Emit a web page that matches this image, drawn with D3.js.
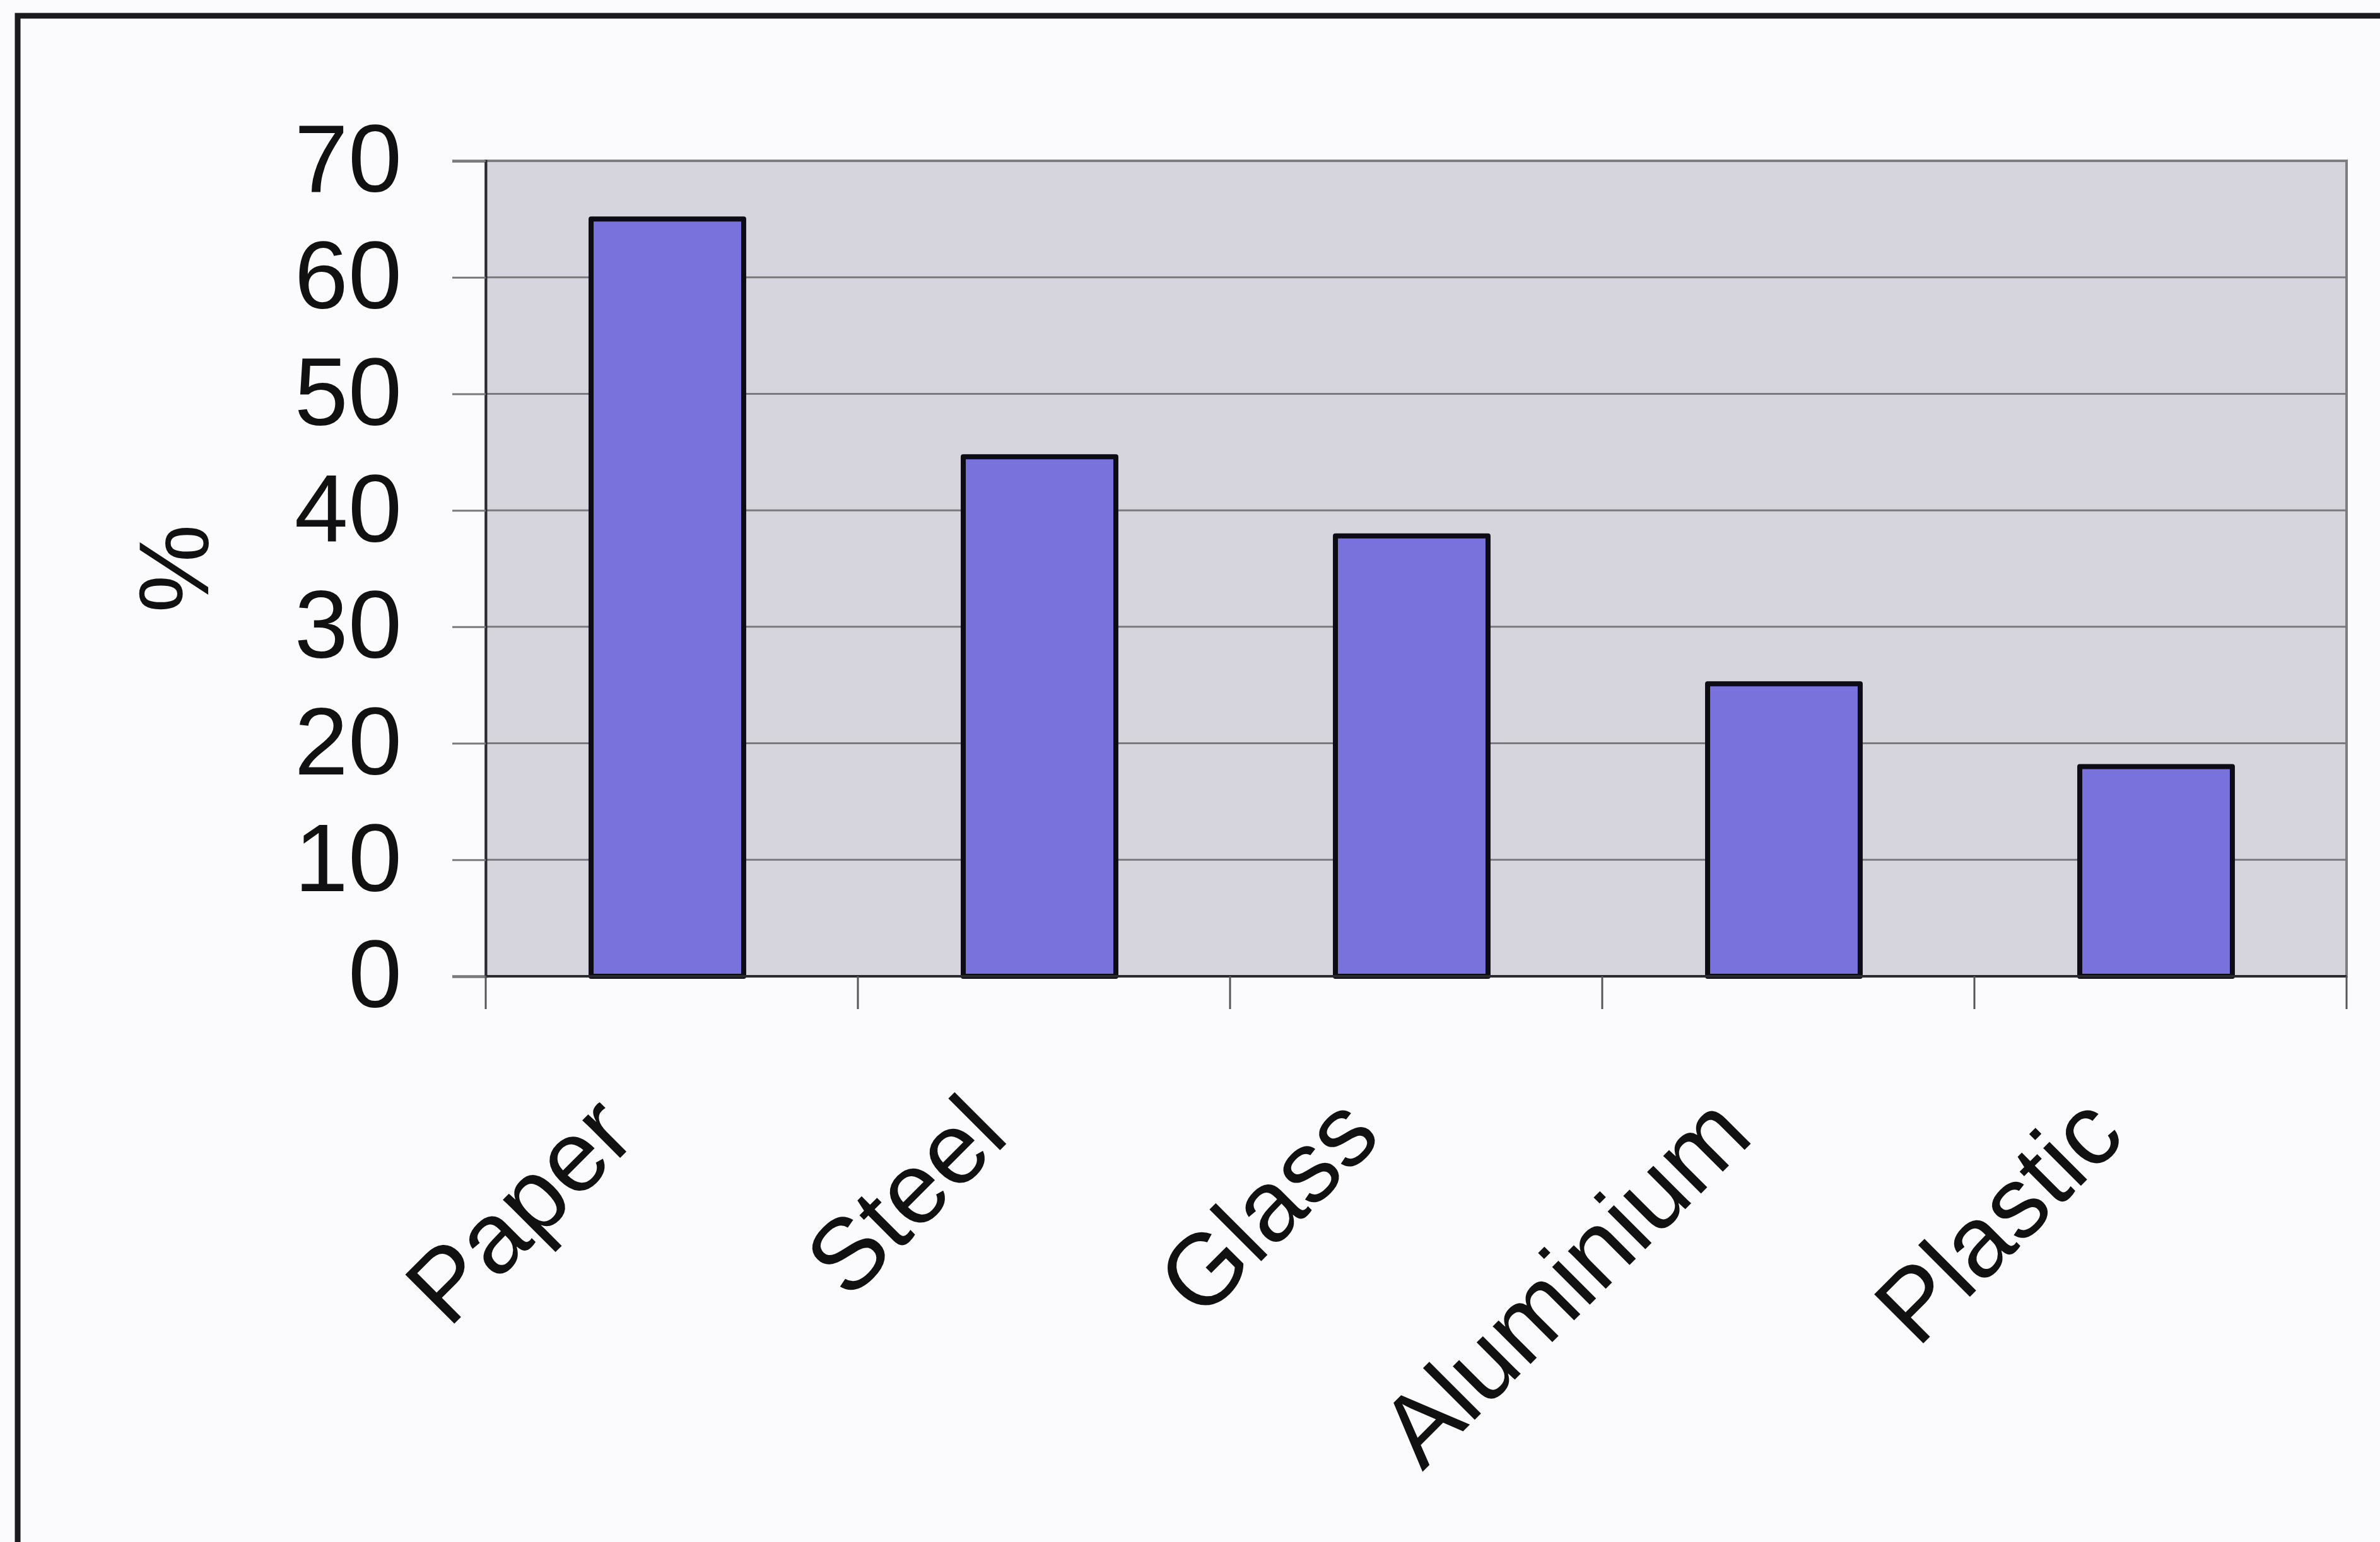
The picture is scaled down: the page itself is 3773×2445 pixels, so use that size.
<!DOCTYPE html>
<html>
<head>
<meta charset="utf-8">
<script src="https://cdn.jsdelivr.net/npm/d3@7"></script>
<style>
  html, body { margin: 0; padding: 0; background: #fbfbfd; }
  svg { display: block; }
  text { font-family: "Liberation Sans", Arial, Helvetica, sans-serif; fill: #111; }
</style>
</head>
<body>
<script>
// Recycling rates by material (%)
const categories = ["Paper", "Steel", "Glass", "Aluminium", "Plastic"];
const values = [65, 44.6, 37.8, 25.1, 18];
const yTicks = [0, 10, 20, 30, 40, 50, 60, 70];
const yLabel = "%";

const W = 3773, H = 2445;
const plot = { left: 770, right: 3720, top: 255, bottom: 1548 };

const svg = d3.select("body").append("svg")
  .attr("width", W).attr("height", H);

svg.append("rect").attr("width", W).attr("height", H).attr("fill", "#fbfbfd");

// outer frame (runs off the right and bottom edges)
svg.append("path")
  .attr("d", `M${W + 10},25 L28,25 L28,${H + 10}`)
  .attr("fill", "none").attr("stroke", "#1b1a1f").attr("stroke-width", 9);

const x = d3.scaleBand()
  .domain(categories)
  .range([plot.left, plot.right])
  .paddingInner(0.59)
  .paddingOuter(0.295);

const y = d3.scaleLinear()
  .domain([0, 70])
  .range([plot.bottom, plot.top]);

// plot area
svg.append("rect")
  .attr("x", plot.left).attr("y", plot.top)
  .attr("width", plot.right - plot.left).attr("height", plot.bottom - plot.top)
  .attr("fill", "#d6d5dd")
  .attr("stroke", "#7d7d80").attr("stroke-width", 4);

// horizontal gridlines
svg.append("g").selectAll("line")
  .data(yTicks.filter(t => t > 0 && t < 70))
  .join("line")
  .attr("x1", plot.left).attr("x2", plot.right)
  .attr("y1", d => y(d)).attr("y2", d => y(d))
  .attr("stroke", "#7a7a7e").attr("stroke-width", 3);

// y axis
const yAxis = svg.append("g")
  .attr("transform", `translate(${plot.left},0)`)
  .call(d3.axisLeft(y).tickValues(yTicks).tickSize(53).tickPadding(80));
yAxis.select(".domain").attr("stroke", "#2a2a2e").attr("stroke-width", 4);
yAxis.selectAll(".tick line").attr("stroke", "#7a7a7e").attr("stroke-width", 3);
yAxis.selectAll(".tick text")
  .attr("font-size", 153)
  .attr("font-family", "'Liberation Sans', Arial, sans-serif")
  .attr("fill", "#111");

// bars (drawn a few pixels left of the band centre)
svg.append("g")
  .attr("transform", "translate(-7,0)")
  .selectAll("rect")
  .data(categories.map((c, i) => ({ c, v: values[i] })))
  .join("rect")
  .attr("x", d => x(d.c))
  .attr("y", d => y(d.v))
  .attr("width", x.bandwidth())
  .attr("height", d => y(0) - y(d.v))
  .attr("fill", "#7a72dc")
  .attr("stroke", "#0d0b14").attr("stroke-width", 8)
  .attr("stroke-linejoin", "round");

// x axis baseline
svg.append("line")
  .attr("x1", plot.left).attr("x2", plot.right)
  .attr("y1", plot.bottom).attr("y2", plot.bottom)
  .attr("stroke", "#2a2a2e").attr("stroke-width", 4);

// category boundary ticks
const step = x.step();
const edges = categories.map(c => x(c) - (step - x.bandwidth()) / 2).concat([plot.right]);
svg.append("g").selectAll("line")
  .data(edges)
  .join("line")
  .attr("x1", d => d).attr("x2", d => d)
  .attr("y1", plot.bottom).attr("y2", plot.bottom + 52)
  .attr("stroke", "#55555a").attr("stroke-width", 3);

// rotated category labels
svg.append("g").selectAll("text")
  .data(categories)
  .join("text")
  .attr("transform", d => `translate(${x(d) + x.bandwidth() / 2 - 52},${plot.bottom + 258}) rotate(-45)`)
  .attr("text-anchor", "end")
  .attr("font-size", 160)
  .text(d => d);

// y axis title
svg.append("text")
  .attr("transform", `translate(${330},${(plot.top + plot.bottom) / 2}) rotate(-90)`)
  .attr("text-anchor", "middle")
  .attr("font-size", 158)
  .text(yLabel);
</script>
</body>
</html>
